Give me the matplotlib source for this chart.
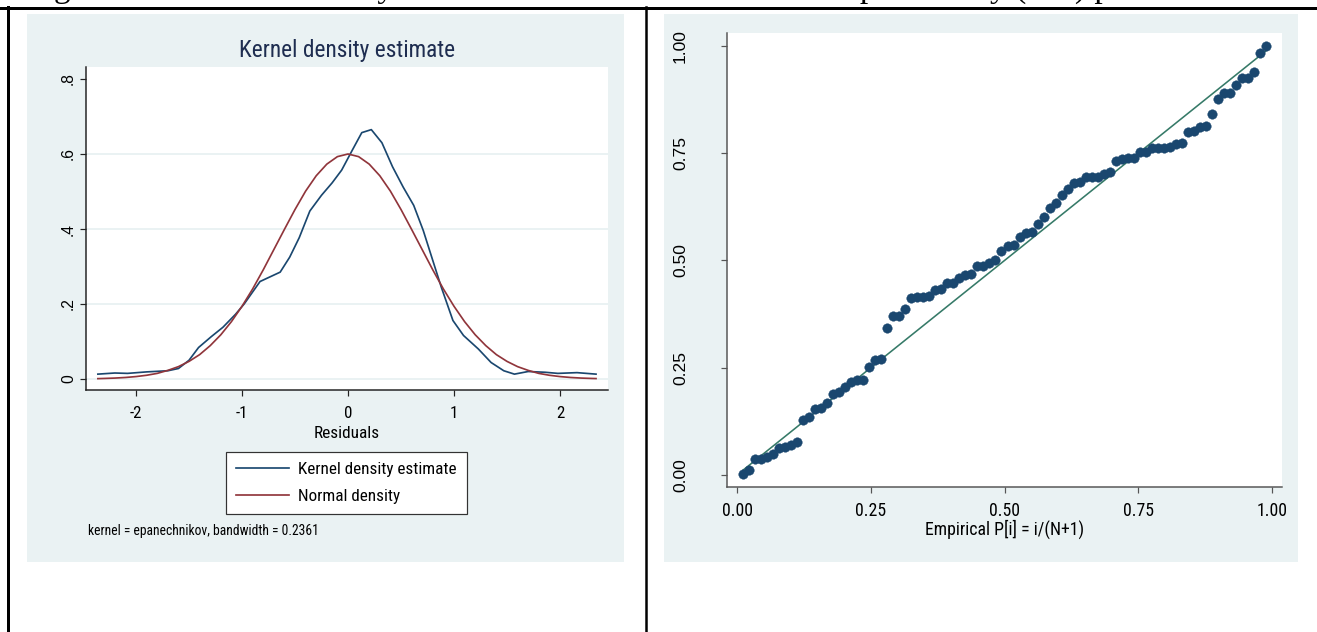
import matplotlib
matplotlib.use("Agg")
import matplotlib.pyplot as plt
from matplotlib import font_manager as fm
from matplotlib.patches import Rectangle
from matplotlib.lines import Line2D

# ---------------- data ----------------
kde_x = [-2.36, -2.20, -2.08, -1.90, -1.70, -1.60, -1.50, -1.41, -1.29, -1.18,
         -1.06, -0.98, -0.83, -0.64, -0.55, -0.46, -0.36, -0.25, -0.15, -0.06,
         0.04, 0.13, 0.22, 0.32, 0.42, 0.52, 0.62, 0.71, 0.80, 0.88,
         0.99, 1.09, 1.23, 1.35, 1.47, 1.57, 1.70, 1.86, 1.98, 2.16, 2.34]
kde_y = [0.013, 0.016, 0.015, 0.019, 0.022, 0.028, 0.050, 0.084, 0.113, 0.138,
         0.173, 0.200, 0.260, 0.285, 0.325, 0.377, 0.448, 0.490, 0.523, 0.557,
         0.610, 0.657, 0.665, 0.630, 0.566, 0.512, 0.463, 0.396, 0.316, 0.245,
         0.156, 0.116, 0.080, 0.044, 0.022, 0.013, 0.020, 0.018, 0.015, 0.017, 0.013]

norm_x = [-2.36, -2.3, -2.2, -2.1, -2.0, -1.9, -1.8, -1.7, -1.6, -1.5, -1.4, -1.3,
          -1.2, -1.1, -1.0, -0.9, -0.8, -0.7, -0.6, -0.5, -0.4, -0.3, -0.2, -0.1,
          0.0, 0.1, 0.2, 0.3, 0.4, 0.5, 0.6, 0.7, 0.8, 0.9, 1.0, 1.1, 1.2, 1.3,
          1.4, 1.5, 1.6, 1.7, 1.8, 1.9, 2.0, 2.1, 2.2, 2.3, 2.34]
norm_y = [0.001, 0.0015, 0.0025, 0.0041, 0.0065, 0.010, 0.015, 0.023, 0.033, 0.047,
          0.065, 0.089, 0.118, 0.153, 0.194, 0.240, 0.291, 0.345, 0.399, 0.452,
          0.501, 0.542, 0.573, 0.593, 0.600, 0.593, 0.573, 0.542, 0.501, 0.452,
          0.399, 0.345, 0.291, 0.240, 0.194, 0.153, 0.118, 0.089, 0.065, 0.047,
          0.033, 0.023, 0.015, 0.010, 0.0065, 0.0041, 0.0025, 0.0015, 0.0012]

# sorted normal probabilities of the residuals (P-P plot, y axis)
pp_y = [0.002, 0.012, 0.037, 0.037, 0.042, 0.049, 0.063, 0.065, 0.070, 0.077,
        0.128, 0.135, 0.154, 0.156, 0.168, 0.189, 0.193, 0.205, 0.217, 0.221,
        0.221, 0.252, 0.268, 0.270, 0.343, 0.371, 0.371, 0.387, 0.413, 0.415,
        0.415, 0.417, 0.431, 0.433, 0.448, 0.448, 0.459, 0.466, 0.468, 0.487,
        0.487, 0.494, 0.501, 0.522, 0.534, 0.536, 0.555, 0.564, 0.566, 0.585,
        0.601, 0.622, 0.634, 0.653, 0.667, 0.681, 0.683, 0.695, 0.695, 0.695,
        0.702, 0.706, 0.732, 0.737, 0.739, 0.739, 0.753, 0.753, 0.762, 0.762,
        0.762, 0.765, 0.772, 0.774, 0.800, 0.802, 0.811, 0.814, 0.841, 0.876,
        0.890, 0.890, 0.909, 0.925, 0.925, 0.939, 0.984, 1.000]
N = len(pp_y)
pp_x = [(i + 1) / (N + 1) for i in range(N)]   # Empirical P[i] = i/(N+1)

left_xticks = [-2, -1, 0, 1, 2]
left_xticklabels = ["-2", "-1", "0", "1", "2"]
left_yticks = [0, 0.2, 0.4, 0.6, 0.8]
left_yticklabels = ["0", ".2", ".4", ".6", ".8"]
right_ticks = [0, 0.25, 0.5, 0.75, 1.0]
right_ticklabels = ["0.00", "0.25", "0.50", "0.75", "1.00"]

caption = "Figure 4.12: Kernel density estimate and standardized normal probability (P-P) plot"
left_title = "Kernel density estimate"
left_xlabel = "Residuals"
legend_labels = ["Kernel density estimate", "Normal density"]
note = "kernel = epanechnikov, bandwidth = 0.2361"
right_xlabel = "Empirical P[i] = i/(N+1)"

# ---------------- style ----------------
W, H, DPI = 1317, 632, 100
names = {f.name for f in fm.fontManager.ttflist}
NARROW = "Liberation Sans"
for cand in ["Liberation Sans Narrow", "Arial Narrow", "Roboto Condensed",
             "PT Sans Narrow", "Archivo Narrow", "Asap Condensed"]:
    if cand in names:
        NARROW = cand
        break
SANS = "Liberation Sans"
SERIF = "Liberation Serif"

BG = "#eaf2f3"
NAVY = "#1a476f"
MAROON = "#90353b"
GREEN = "#367a68"
TITLE = "#1e2d50"
AX = "#222222"

fig = plt.figure(figsize=(W / DPI, H / DPI), dpi=DPI)
fig.patch.set_facecolor("white")
renderer = fig.canvas.get_renderer()


def fx(px):
    return px / W


def fy(py):
    return 1 - py / H


def px2pt(p):
    return p * 72.0 / DPI


def fit_size(s, family, target_px, base=20.0):
    """font size (pt) at which string s is target_px wide"""
    t = fig.text(0, 0, s, family=family, fontsize=base)
    w = t.get_window_extent(renderer).width
    t.remove()
    return base * target_px / w


def axes_px(x0, y0, x1, y1):
    return fig.add_axes([fx(x0), fy(y1), (x1 - x0) / W, (y1 - y0) / H])


# font sizes matched to the widths seen in the reference
FS_TITLE = fit_size(left_title, NARROW, 216)
FS_LEG = fit_size(legend_labels[0], NARROW, 158)
FS_NOTE = fit_size(note, NARROW, 230)
FS_RESID = fit_size(left_xlabel, NARROW, 66)
FS_LXT = fit_size("-2", NARROW, 12.5)
FS_RXT = fit_size("0.25", NARROW, 31)
FS_RXL = fit_size(right_xlabel, NARROW, 159)
FS_LYT = fit_size(".8", SANS, 13)
FS_RYT = fit_size("1.00", SANS, 34)

# table lines and caption
fig.add_artist(Line2D([0, 1], [fy(7.5), fy(7.5)], transform=fig.transFigure,
                      color="black", lw=px2pt(3)))
fig.add_artist(Line2D([fx(7.5), fx(7.5)], [fy(7), 0], transform=fig.transFigure,
                      color="black", lw=px2pt(3)))
fig.add_artist(Line2D([fx(645.5), fx(645.5)], [fy(7), 0], transform=fig.transFigure,
                      color="black", lw=px2pt(2.5)))
fig.text(fx(26), fy(-3.2), caption, family=SERIF, fontsize=px2pt(33.5),
         ha="left", va="baseline", color="black")

# graph backgrounds
fig.add_artist(Rectangle((fx(27), fy(562)), (624 - 27) / W, (562 - 14) / H,
                         transform=fig.transFigure, facecolor=BG, edgecolor="none", zorder=0))
fig.add_artist(Rectangle((fx(664), fy(562)), (1298 - 664) / W, (562 - 14) / H,
                         transform=fig.transFigure, facecolor=BG, edgecolor="none", zorder=0))


def style_axes(ax, axcolor):
    for s in ["top", "right"]:
        ax.spines[s].set_visible(False)
    for s in ["left", "bottom"]:
        ax.spines[s].set_color(axcolor)
        ax.spines[s].set_linewidth(px2pt(1.5))
    ax.tick_params(direction="out", length=px2pt(6), width=px2pt(1.2), color=axcolor)


# ---------------- left: kernel density ----------------
axL = axes_px(86, 67, 608, 390)
axL.set_facecolor("white")
style_axes(axL, AX)
axL.set_xlim(-2.472, 2.453)
axL.set_ylim(-0.0293, 0.832)
for g in [0, 0.2, 0.4, 0.6]:
    axL.axhline(g, color=BG, lw=px2pt(2), zorder=1)
axL.plot(kde_x, kde_y, color=NAVY, lw=px2pt(1.7), zorder=3, label=legend_labels[0])
axL.plot(norm_x, norm_y, color=MAROON, lw=px2pt(1.7), zorder=3, label=legend_labels[1])
axL.set_xticks(left_xticks)
axL.set_xticklabels(left_xticklabels, family=NARROW, fontsize=FS_LXT)
axL.set_yticks(left_yticks)
axL.set_yticklabels(left_yticklabels, family=SANS, fontsize=FS_LYT, rotation=90, va="center")
axL.tick_params(axis="x", pad=px2pt(10))
axL.tick_params(axis="y", pad=px2pt(4))
axL.set_xlabel(left_xlabel, family=NARROW, fontsize=FS_RESID)
axL.xaxis.set_label_coords(0.5, -(433 - 390) / 323.0)
axL.xaxis.label.set_va("center")
axL.set_title(left_title, family=NARROW, fontsize=FS_TITLE, color=TITLE,
              y=1 + (67 - 50) / 323.0, pad=0, va="center")
fs_leg_px = FS_LEG * DPI / 72.0
leg = axL.legend(loc="upper left", bbox_to_anchor=(fx(226), fy(452)),
                 bbox_transform=fig.transFigure, borderaxespad=0,
                 prop={"family": NARROW, "size": FS_LEG}, frameon=True, fancybox=False,
                 framealpha=1, edgecolor="#333333", handlelength=53 / fs_leg_px,
                 handletextpad=9 / fs_leg_px, borderpad=0.6, labelspacing=0.66)
leg.get_frame().set_linewidth(px2pt(1.2))
fig.text(fx(88), fy(531), note, family=NARROW, fontsize=FS_NOTE,
         ha="left", va="center", color="black")

# ---------------- right: P-P plot ----------------
axR = axes_px(727, 33, 1282, 487)
axR.set_facecolor("white")
style_axes(axR, "#555555")
axR.set_xlim(-0.0187, 1.0187)
axR.set_ylim(-0.028, 1.0303)
axR.plot([pp_x[0], pp_x[-1]], [pp_x[0], pp_x[-1]], color=GREEN, lw=px2pt(1.6), zorder=2)
axR.plot(pp_x, pp_y, "o", color=NAVY, ms=px2pt(9.5), mec=NAVY, mew=0.3, zorder=3)
axR.set_xticks(right_ticks)
axR.set_xticklabels(right_ticklabels, family=NARROW, fontsize=FS_RXT)
axR.set_yticks(right_ticks)
axR.set_yticklabels(right_ticklabels, family=SANS, fontsize=FS_RYT, rotation=90, va="center")
axR.tick_params(axis="x", pad=px2pt(9))
axR.tick_params(axis="y", pad=px2pt(33))
axR.set_xlabel(right_xlabel, family=NARROW, fontsize=FS_RXL)
axR.xaxis.set_label_coords(0.5, -(529 - 487) / 454.0)
axR.xaxis.label.set_va("center")

fig.savefig("out.png", dpi=DPI)
